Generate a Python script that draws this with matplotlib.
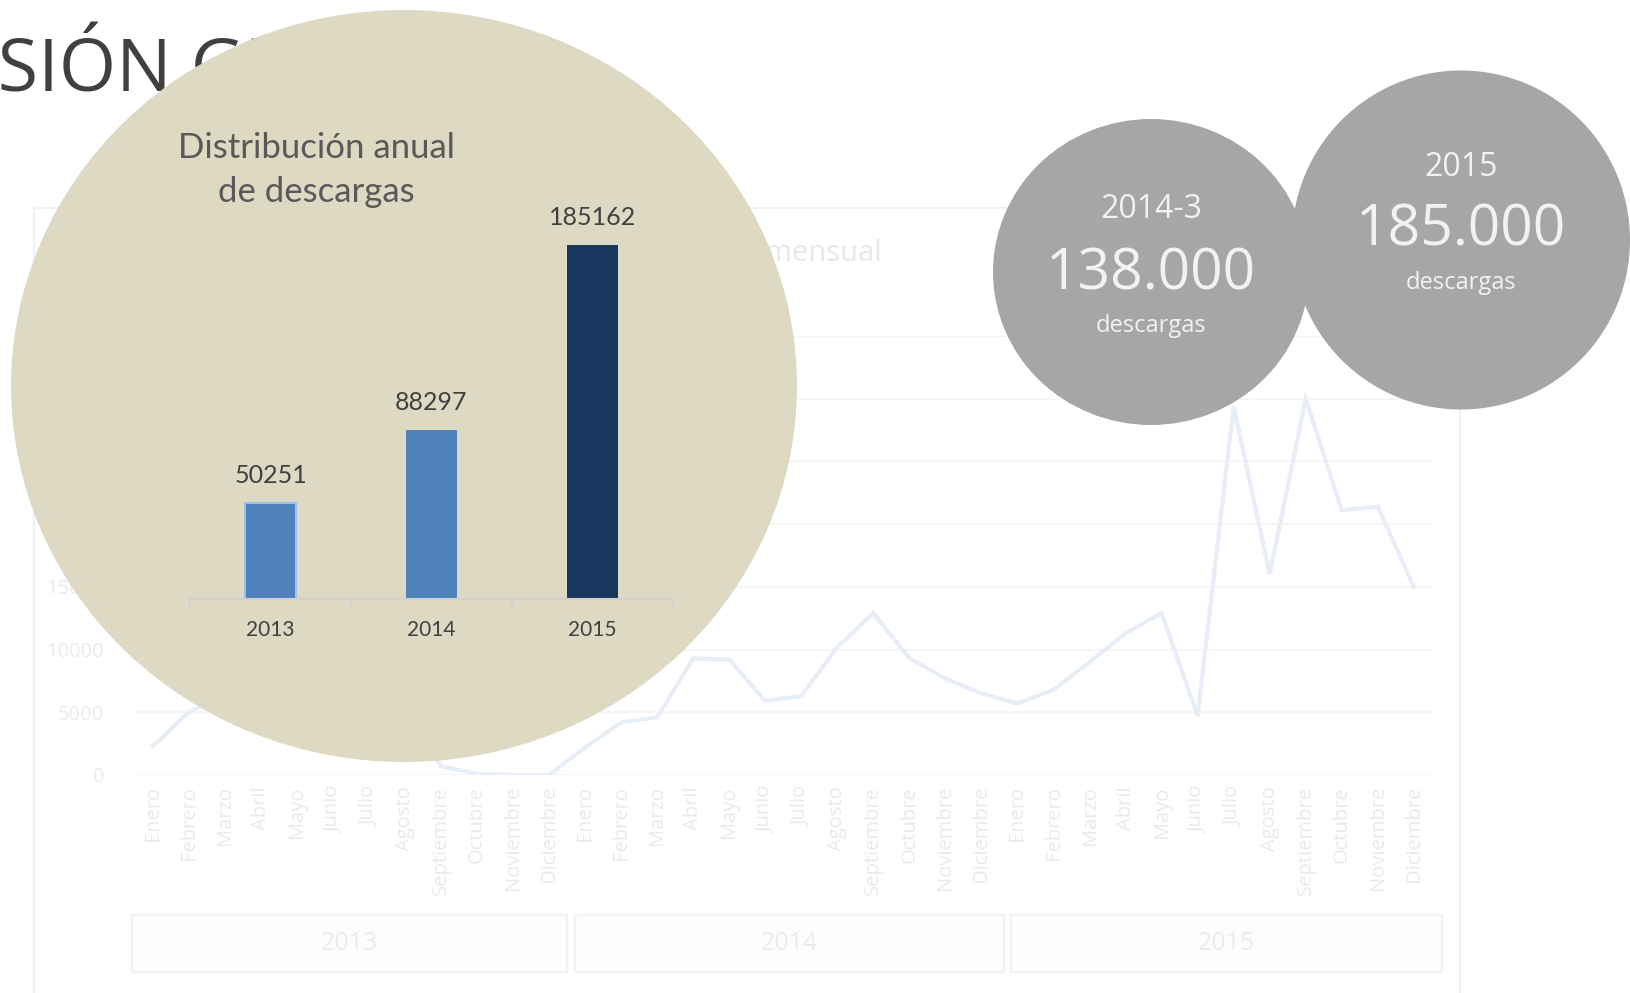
import numpy as np
import matplotlib
matplotlib.use("Agg")
import matplotlib.pyplot as plt
from matplotlib.patches import Ellipse, Rectangle

W, H = 1630, 993

# monthly downloads (faded background chart)
months = ["Enero", "Febrero", "Marzo", "Abril", "Mayo", "Junio", "Julio",
          "Agosto", "Septiembre", "Octubre", "Noviembre", "Diciembre"]
dl_2013 = [2300, 5000, 6500, 7800, 8200, 7600, 6900, 5100, 700, 100, 0, 0]
dl_2014 = [2200, 4200, 4600, 9300, 9200, 5900, 6300, 10200, 12900, 9300, 7700, 6500]
dl_2015 = [5700, 6800, 9000, 11300, 12900, 4700, 29400, 16000, 30000, 21100, 21400, 15000]
year_groups = ["2013", "2014", "2015"]

# yearly totals (bar chart inside the beige circle)
years = ["2013", "2014", "2015"]
totals = [50251, 88297, 185162]
bar_colors = ["#4F81BD", "#4F81BD", "#17375E"]

# summary bubbles
bubble_head = ["2014-3", "2015"]
bubble_value = ["138.000", "185.000"]


def px_rect(x0, y0, x1, y1):
    # pixel box (top-left origin) -> figure fraction rect
    return [x0 / W, 1 - y1 / H, (x1 - x0) / W, (y1 - y0) / H]


fig = plt.figure(figsize=(W / 100, H / 100), dpi=100)
fig.patch.set_facecolor("white")

# ---- bottom layer: page title, chart frame, year group boxes
ax_under = fig.add_axes([0, 0, 1, 1], zorder=0)
ax_under.set_xlim(0, W)
ax_under.set_ylim(H, 0)
ax_under.axis("off")

ax_under.add_patch(Rectangle((34, 208), 1426, 800, facecolor="white",
                             edgecolor="#F2F2F2", lw=1.5))
fade_txt = "#EBEBEB"
box_x = [(132, 567), (575, 1004), (1011, 1442)]
for (x0, x1), lab in zip(box_x, year_groups):
    ax_under.add_patch(Rectangle((x0, 915), x1 - x0, 57, facecolor="#FDFDFD",
                                 edgecolor="#F2F2F2", lw=1.5))
    ax_under.text((x0 + x1) / 2, 944, lab, ha="center", va="center",
                  fontsize=18, color=fade_txt, family="Open Sans")
ax_under.text(882, 254, "Descargas mensual", ha="right", va="center",
              fontsize=21, color="#E8E8E8", family="Open Sans")

title = ax_under.text(0, 92, "VISIÓN GLOBAL", ha="left", va="baseline",
                      fontsize=53, color="#404040", family="Open Sans")
# shift so that only "SIÓN G..." starts at the left edge
r = fig.canvas.get_renderer()
probe = ax_under.text(0, 92, "VI", fontsize=53, family="Open Sans")
w_vi = probe.get_window_extent(renderer=r).width
probe.remove()
title.set_x(-w_vi - 2)

# ---- faded monthly line chart
ax_line = fig.add_axes(px_rect(134.8, 336, 1431.8, 775), zorder=1)
ax_line.patch.set_alpha(0)
series = dl_2013 + dl_2014 + dl_2015
xs = np.arange(len(series))
ax_line.plot(xs, series, color="#E8EEF7", lw=3, solid_joinstyle="miter")
ax_line.set_xlim(-0.5, len(series) - 0.5)
ax_line.set_ylim(0, 35000)
ax_line.set_yticks(np.arange(0, 35001, 5000))
ax_line.set_yticklabels([str(v) for v in range(0, 35001, 5000)])
ax_line.set_xticks(xs)
ax_line.set_xticklabels(months * 3, rotation=90)
ax_line.tick_params(axis="x", length=0, pad=8, labelsize=14.5, labelcolor="#EAEAEA")
ax_line.tick_params(axis="y", length=0, pad=22, labelsize=14.5, labelcolor=fade_txt)
for lab in ax_line.get_xticklabels() + ax_line.get_yticklabels():
    lab.set_family("Open Sans")
ax_line.grid(axis="y", color="#F3F3F3", lw=1.2)
ax_line.set_axisbelow(True)
for s in ax_line.spines.values():
    s.set_visible(False)

# ---- overlay shapes: beige circle and grey bubbles
ax_over = fig.add_axes([0, 0, 1, 1], zorder=2)
ax_over.set_xlim(0, W)
ax_over.set_ylim(H, 0)
ax_over.axis("off")
ax_over.patch.set_alpha(0)

ax_over.add_patch(Ellipse((404, 386), 786, 752, facecolor="#DDD9C3", edgecolor="none"))
ax_over.text(316, 170, "Distribución anual\nde descargas", ha="center", va="center",
             fontsize=25, color="#595959", family="Lato", linespacing=1.45)

bubbles = [((1151, 272), 316, 306), ((1461, 240), 338, 339)]
text_y = [(210, 275, 326), (167, 231, 283)]
for (c, bw, bh), (y1, y2, y3), head, val in zip(bubbles, text_y, bubble_head, bubble_value):
    ax_over.add_patch(Ellipse(c, bw, bh, facecolor="#A6A6A6", edgecolor="none"))
    ax_over.text(c[0], y1, head, ha="center", va="center", fontsize=23,
                 color="#F2F2F2", family="Open Sans")
    ax_over.text(c[0], y2, val, ha="center", va="center", fontsize=41,
                 color="#F2F2F2", family="Open Sans")
    ax_over.text(c[0], y3, "descargas", ha="center", va="center", fontsize=17,
                 color="#F2F2F2", family="Open Sans")

# ---- yearly bar chart
ax_bar = fig.add_axes(px_rect(190.2, 599 - 382, 672.6, 599), zorder=3)
ax_bar.patch.set_alpha(0)
xb = np.arange(len(years))
bars = ax_bar.bar(xb, totals, width=0.317, color=bar_colors, zorder=2)
bars[0].set_edgecolor("#9DBFE6")
bars[0].set_linewidth(1.5)
for x, v in zip(xb, totals):
    ax_bar.annotate(str(v), (x, v), xytext=(0, 20), textcoords="offset points",
                    ha="center", va="center", fontsize=18, color="#404040", family="Lato")
ax_bar.set_xlim(-0.5, 2.5)
ax_bar.set_ylim(0, 200000)
ax_bar.set_yticks([])
ax_bar.set_xticks(xb)
ax_bar.set_xticklabels(years, family="Lato")
ax_bar.set_xticks([-0.5, 0.5, 1.5, 2.5], minor=True)
ax_bar.tick_params(axis="x", which="major", length=0, pad=15, labelsize=15,
                   labelcolor="#404040")
ax_bar.tick_params(axis="x", which="minor", length=6, color="#D0D0D0", width=1.2)
for name, s in ax_bar.spines.items():
    s.set_visible(name == "bottom")
ax_bar.spines["bottom"].set_color("#D0D0D0")
ax_bar.spines["bottom"].set_linewidth(1.5)

fig.savefig("out.png", dpi=100, facecolor="white")
